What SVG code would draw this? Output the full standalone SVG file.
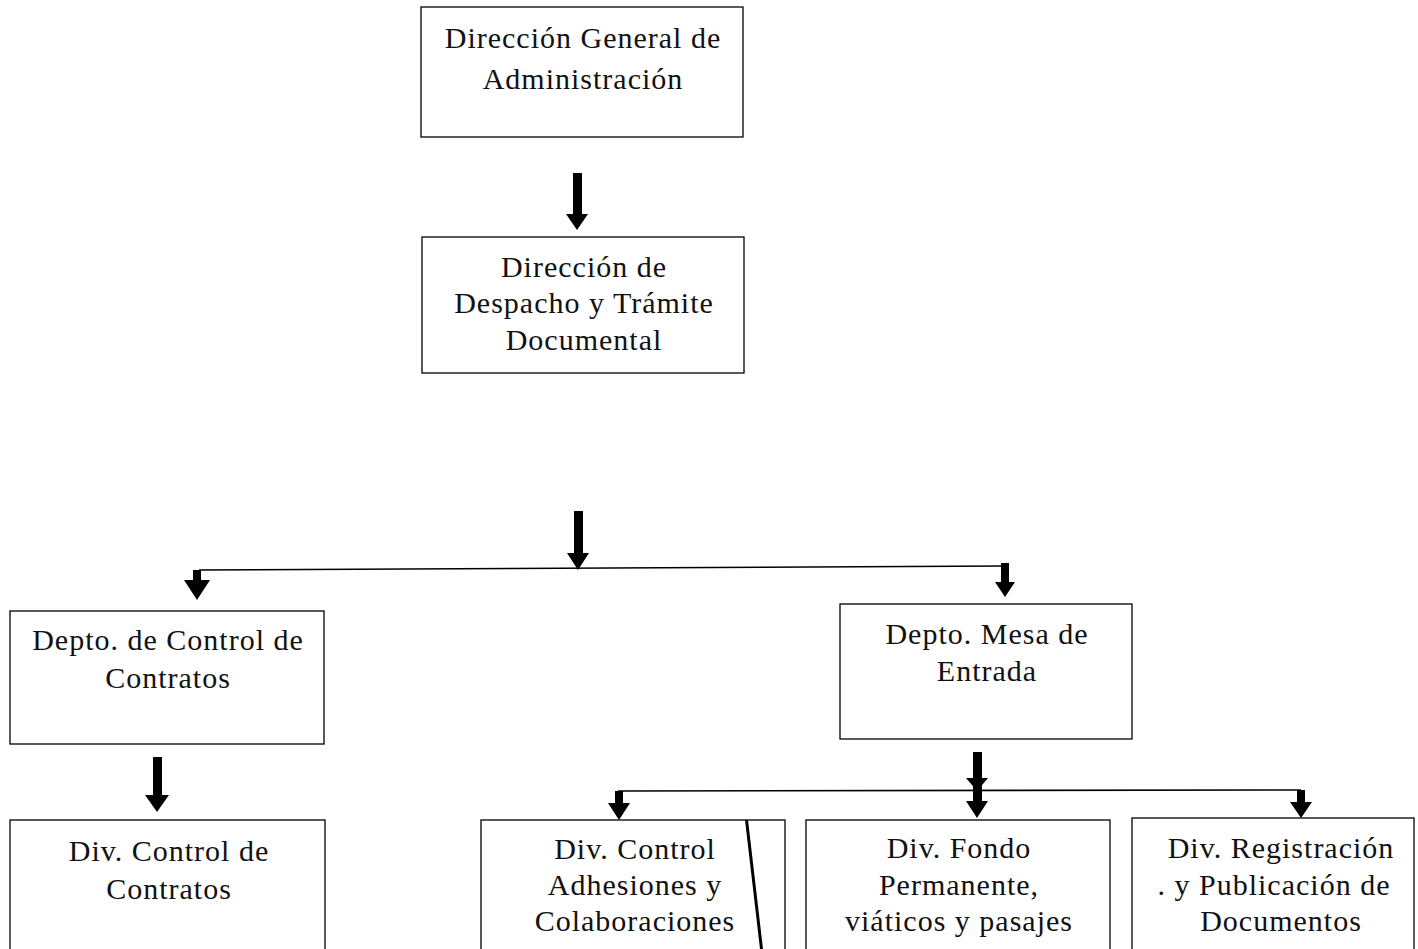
<svg xmlns="http://www.w3.org/2000/svg" width="1418" height="949" viewBox="0 0 1418 949">
<defs>
<style>
.box{fill:#fff;stroke:#000;stroke-width:1.3}
.t{font-family:"Liberation Serif","Times New Roman",serif;font-size:30px;letter-spacing:1px;fill:#111;text-anchor:middle}
.ln{stroke:#000;stroke-width:1.6;fill:none}
.ar{fill:#000}
</style>
</defs>
<rect width="1418" height="949" fill="#fff"/>
<g id="connectors">
<polygon class="ar" points="573,173 582,173 582,214 588,214 577,230 566,214 573,214"/>
<polygon class="ar" points="574,511 583,511 583,553 589,553 578,570 567,553 574,553"/>
<line class="ln" x1="199" y1="570" x2="1005" y2="566"/>
<polygon class="ar" points="193,570 201,570 201,580 210,580 197,600 184,580 193,580"/>
<polygon class="ar" points="1001,563 1009,563 1009,582 1015,582 1005,597 995,582 1001,582"/>
<polygon class="ar" points="153,757 162,757 162,795 169,795 157,812 145,795 153,795"/>
<polygon class="ar" points="973,752 982,752 982,801 988,801 977,818 966,801 973,801"/>
<polygon class="ar" points="966,778 988,778 977,791"/>
<line class="ln" x1="618" y1="791" x2="1301" y2="790"/>
<polygon class="ar" points="615,791 623,791 623,803 630,803 619,820 608,803 615,803"/>
<polygon class="ar" points="1297,790 1305,790 1305,802 1312,802 1301,818 1290,802 1297,802"/>
</g>
<g id="n1"><rect class="box" x="421" y="7" width="322" height="130"/>
<text class="t" x="583" y="48">Dirección General de</text><text class="t" x="583" y="89">Administración</text></g>
<g id="n2"><rect class="box" x="422" y="237" width="322" height="136"/>
<text class="t" x="584" y="277">Dirección de</text><text class="t" x="584" y="313">Despacho y Trámite</text><text class="t" x="584" y="350">Documental</text></g>
<g id="n3"><rect class="box" x="10" y="611" width="314" height="133"/>
<text class="t" x="168" y="650">Depto. de Control de</text><text class="t" x="168" y="688">Contratos</text></g>
<g id="n4"><rect class="box" x="840" y="604" width="292" height="135"/>
<text class="t" x="987" y="644">Depto. Mesa de</text><text class="t" x="987" y="681">Entrada</text></g>
<g id="n5"><rect class="box" x="10" y="820" width="315" height="140"/>
<text class="t" x="169" y="861">Div. Control de</text><text class="t" x="169" y="899">Contratos</text></g>
<g id="n6"><rect class="box" x="481" y="820" width="304" height="140"/>
<polygon class="ar" points="745,820 748,820 763,949 760,949"/>
<text class="t" x="635" y="859">Div. Control</text><text class="t" x="635" y="895">Adhesiones y</text><text class="t" x="635" y="931">Colaboraciones</text></g>
<g id="n7"><rect class="box" x="806" y="820" width="304" height="140"/>
<text class="t" x="959" y="858">Div. Fondo</text><text class="t" x="959" y="895">Permanente,</text><text class="t" x="959" y="931">viáticos y pasajes</text></g>
<g id="n8"><rect class="box" x="1132" y="818" width="282" height="142"/>
<text class="t" x="1281" y="858">Div. Registración</text><text class="t" x="1274" y="895">. y Publicación de</text><text class="t" x="1281" y="931">Documentos</text></g>
</svg>
